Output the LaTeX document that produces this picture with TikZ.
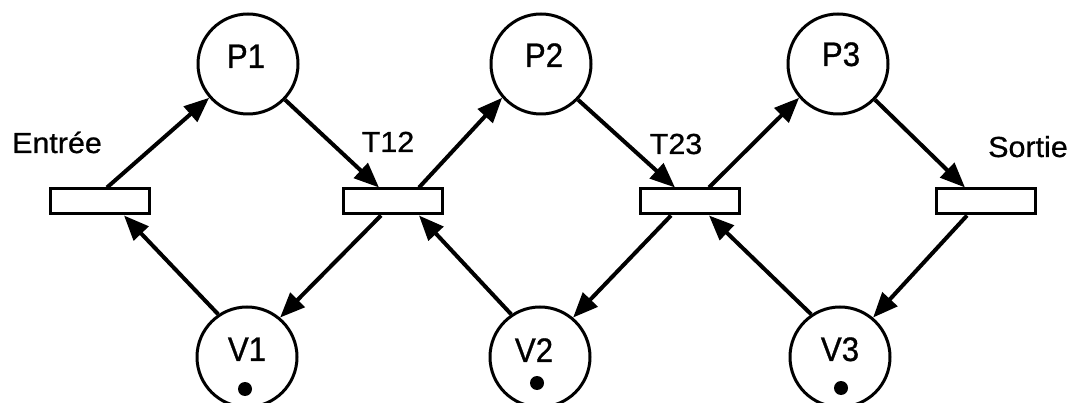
\documentclass[tikz,border=0pt]{standalone}
\usepackage{fontspec}
\setmainfont{Liberation Sans}
\newfontfamily\circfont[FakeStretch=0.92,FakeBold=0.8]{Liberation Sans}
\newfontfamily\lblfont[FakeStretch=1.05,FakeBold=0.8]{Liberation Sans}
\usetikzlibrary{arrows.meta,calc}
\begin{document}
\begin{tikzpicture}[x=1pt,y=-1pt,
  place/.style={circle,draw,line width=3pt,minimum size=100pt,inner sep=0pt},
  trans/.style={rectangle,draw,line width=3pt,minimum width=99pt,minimum height=25pt,inner sep=0pt},
  ptext/.style={font=\circfont\fontsize{34}{34}\selectfont,anchor=base,inner sep=0pt},
  ltext/.style={font=\lblfont\fontsize{29}{29}\selectfont,anchor=base,inner sep=0pt},
  tok/.style={circle,fill,minimum size=14pt,inner sep=0pt},
  arc/.style={line width=4pt,-{Triangle[length=25pt,width=20pt]}}]
\fill[white] (0,0) rectangle (1082,403);
\useasboundingbox (0,0) rectangle (1082,403);
\clip (0,0) rectangle (1082,403);
% places
\node[place] (P1) at (248,64) {};
\node[place] (P2) at (541,64) {};
\node[place] (P3) at (838,64) {};
\node[place] (V1) at (247,357) {};
\node[place] (V2) at (540,357) {};
\node[place] (V3) at (840,357) {};
\node[ptext] (P1t) at (246,68) {P1};
\node[ptext] (P2t) at (544,67) {P2};
\node[ptext] (P3t) at (841,66) {P3};
\node[ptext] (V1t) at (247,361) {V1};
\node[ptext] (V2t) at (534,362) {V2};
\node[ptext] (V3t) at (840,361) {V3};
\node[tok] (k1) at (245,389) {};
\node[tok] (k2) at (537,383) {};
\node[tok] (k3) at (841,388) {};
% transitions
\node[trans] (TE) at (100,201.5) {};
\node[trans] (T12) at (393,201.5) {};
\node[trans] (T23) at (690,201.5) {};
\node[trans] (TS) at (986,201.5) {};
\node[ltext] (LE) at (57,153) {Entrée};
\node[ltext] (L12) at (388,152) {T12};
\node[ltext] (L23) at (676,154) {T23};
\node[ltext] (LS) at (1028,157) {Sortie};
% arcs
\draw[arc] ([xshift=7pt]TE.north) -- (P1.221);
\draw[arc] (P1.316) -- ([xshift=-14pt]T12.north);
\draw[arc] ([xshift=26pt]T12.north) -- (P2.221);
\draw[arc] (P2.316) -- ([xshift=-15pt]T23.north);
\draw[arc] ([xshift=19pt]T23.north) -- (P3.221);
\draw[arc] (P3.316) -- ([xshift=-21pt]TS.north);
\draw[arc] (V1.124) -- ([xshift=24pt]TE.south);
\draw[arc] ([xshift=-12pt]T12.south) -- (V1.50);
\draw[arc] (V2.124) -- ([xshift=26pt]T12.south);
\draw[arc] ([xshift=-19pt]T23.south) -- (V2.50);
\draw[arc] (V3.124) -- ([xshift=19pt]T23.south);
\draw[arc] ([xshift=-19pt]TS.south) -- (V3.50);
\end{tikzpicture}
\end{document}
